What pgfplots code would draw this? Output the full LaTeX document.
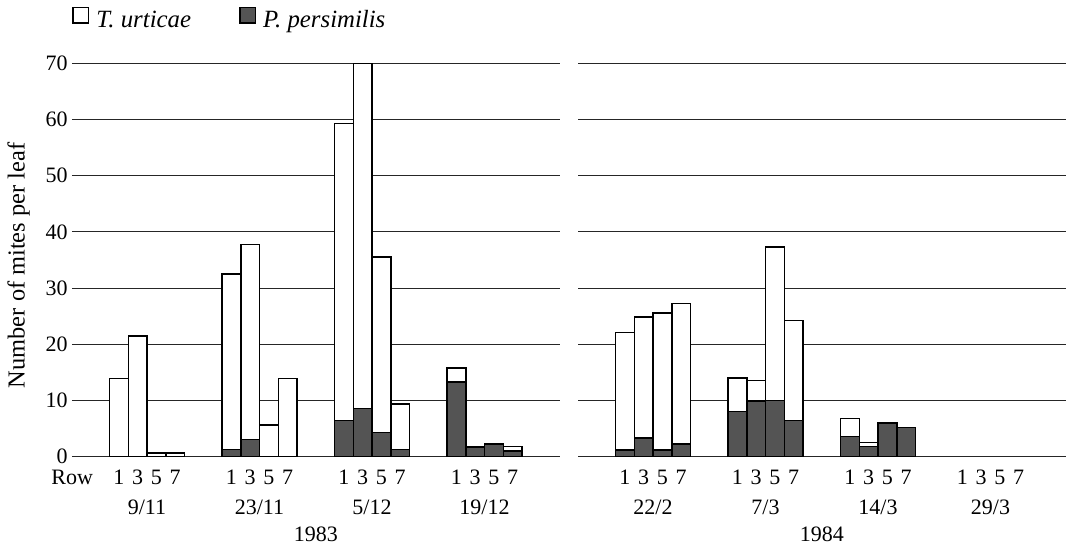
\documentclass[border=0pt]{standalone}
\usepackage{fontspec}
\setmainfont{Liberation Serif}
\usepackage{pgfplots}
\usepackage{pgfplotstable}
\pgfplotsset{compat=1.18}
\definecolor{darkbar}{gray}{0.33}

\pgfplotstableread{
x tot per
0 13.9 0
1 21.5 0
2 0.7 0
3 0.7 0
6 32.5 1.3
7 37.8 3.1
8 5.6 0
9 13.9 0
12 59.3 6.4
13 70.0 8.6
14 35.5 4.3
15 9.4 1.3
18 15.8 13.3
19 1.7 1.7
20 2.3 2.3
21 1.8 1.0
}\lefttab

\pgfplotstableread{
x tot per
0 22.1 1.2
1 24.9 3.3
2 25.6 1.2
3 27.3 2.3
6 14.0 8.0
7 13.6 9.9
8 37.3 10.0
9 24.2 6.4
12 6.8 3.6
13 2.5 1.8
14 6.0 6.0
15 5.2 5.2
}\righttab

\pgfplotsset{
 mitestyle/.style={
  scale only axis, width=243.75pt, height=196.7pt,
  xmin=-2.5, xmax=23.5, ymin=0, ymax=70,
  ytick={0,10,...,70},
  ymajorgrids, grid style={black!85, line width=0.5pt},
  axis line style={draw=none},
  major tick length=0pt,
  tick style={draw=none},
  xtick={0,1,2,3,6,7,8,9,12,13,14,15,18,19,20,21},
  xticklabels={1,3,5,7,1,3,5,7,1,3,5,7,1,3,5,7},
  xticklabel style={anchor=base, yshift=-14.15pt, inner sep=0pt},
  yticklabel style={anchor=east, inner sep=0pt, xshift=-2pt},
  /pgf/number format/assume math mode=true,
  ybar, bar width=1, /pgf/bar shift=0pt,
  clip=false,
 },
 whitebar/.style={fill=white, draw=black, line width=0.75pt},
 darkbar/.style={fill=darkbar, draw=black, line width=0.75pt},
}

\begin{document}
\begin{tikzpicture}[font=\fontsize{11}{13}\selectfont]
\path[use as bounding box] (-36pt,-46.15pt) rectangle (501pt,228.35pt);
\begin{axis}[mitestyle, at={(0pt,0pt)}, anchor=south west,
  ylabel={Number of mites per leaf},
  ylabel style={at={(axis description cs:-0.1097,0.4863)}, anchor=center, inner sep=0pt, font=\fontsize{12.2}{14}\selectfont},
  legend columns=2,
  legend image code/.code={\draw[#1, line width=0.75pt] (0pt,-1.2pt) rectangle (7.8pt,6.6pt);},
  legend style={at={(axis description cs:0,1)}, anchor=south west, yshift=14pt, draw=none, fill=none, inner sep=0pt,
     font=\fontsize{12.4}{14}\selectfont,
     /tikz/every odd column/.append style={column sep=1.5pt},
     /tikz/every even column/.append style={column sep=22pt}},
]
\addplot[whitebar] table[x=x,y=tot]{\lefttab};
\addlegendentry{\textit{T. urticae}}
\addplot[darkbar] table[x=x,y=per]{\lefttab};
\addlegendentry{\textit{P. persimilis}}
\node[anchor=base east, xshift=14pt, yshift=-14.15pt] at (axis cs:-2.5,0) {Row};
\node[anchor=base, yshift=-29.15pt] at (axis cs:1.5,0) {9/11};
\node[anchor=base, yshift=-29.15pt] at (axis cs:7.5,0) {23/11};
\node[anchor=base, yshift=-29.15pt] at (axis cs:13.5,0) {5/12};
\node[anchor=base, yshift=-29.15pt] at (axis cs:19.5,0) {19/12};
\node[anchor=base, yshift=-42.65pt] at (axis cs:10.5,0) {1983};
\end{axis}
\begin{axis}[mitestyle, at={(253pt,0pt)}, anchor=south west, yticklabels={}]
\addplot[whitebar] table[x=x,y=tot]{\righttab};
\addplot[darkbar] table[x=x,y=per]{\righttab};
\node[anchor=base, yshift=-29.15pt] at (axis cs:1.5,0) {22/2};
\node[anchor=base, yshift=-29.15pt] at (axis cs:7.5,0) {7/3};
\node[anchor=base, yshift=-29.15pt] at (axis cs:13.5,0) {14/3};
\node[anchor=base, yshift=-29.15pt] at (axis cs:19.5,0) {29/3};
\node[anchor=base, yshift=-42.65pt] at (axis cs:10.5,0) {1984};
\end{axis}
\end{tikzpicture}
\end{document}
